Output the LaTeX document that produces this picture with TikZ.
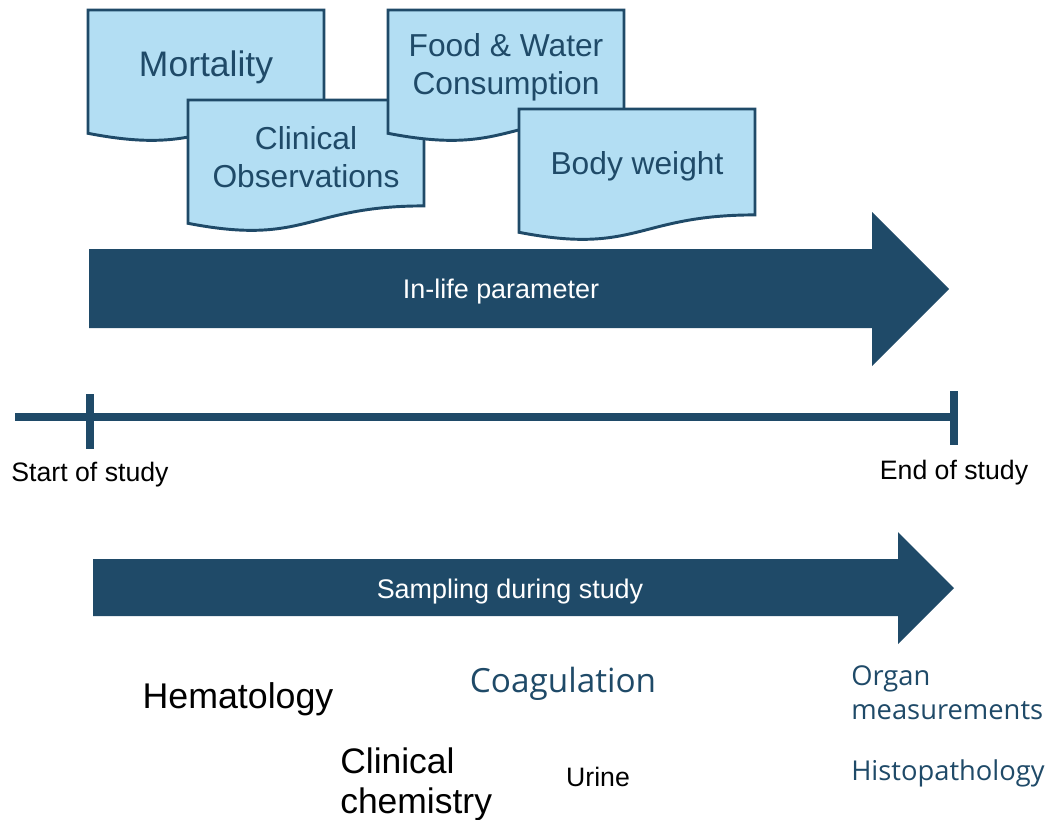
\documentclass[tikz,border=0pt]{standalone}
\usepackage{fontspec}
\setmainfont{Liberation Sans}
\newfontfamily\labelfont{Open Sans}
\definecolor{navy}{HTML}{1F4A68}
\definecolor{boxfill}{HTML}{B3DEF3}

\tikzset{
  docpath/.style={fill=boxfill, draw=navy, line width=2.2pt, line join=miter},
  doctext/.style={text=navy, align=center, inner sep=0pt,
    font=\fontsize{23.8}{28.5}\selectfont},
  bigarrow/.style={fill=navy},
  arrowtext/.style={text=white, inner sep=0pt, font=\fontsize{20.2}{24}\selectfont},
  axisline/.style={draw=navy, line width=6pt},
  ticklabel/.style={text=black, inner sep=0pt, font=\fontsize{20}{24}\selectfont},
  blacklabel/.style={text=black, inner sep=0pt, align=left},
  bluelabel/.style={text=navy, inner sep=0pt, align=left},
}

% document-shaped box: #1 name, #2/#3 top-left corner, #4 text, #5 extra text style
\newcommand\docbox[5]{%
  \begin{scope}[shift={(#2,#3)}]
    \path[docpath] (0,0) -- (236,0) -- (236,105.9)
      .. controls (118,105.9) and (118,146.2) .. (0,123.3) -- cycle;
    \node[doctext,#5] (#1) at (118,57) {#4};
  \end{scope}}

\begin{document}
\begin{tikzpicture}[x=0.75pt,y=-0.75pt]
\useasboundingbox (0,0) rectangle (1050,819);

% in-life measurements
\docbox{mort}{88}{10}{Mortality}{font=\fontsize{26.6}{30}\selectfont}
\docbox{clin}{188}{100}{Clinical\\Observations}{}
\docbox{food}{388}{10}{Food \& Water\\Consumption}{}
\docbox{body}{519}{109}{Body weight}{}

% in-life arrow
\path[bigarrow] (89,249) -- (872,249) -- (872,212) -- (949,289)
  -- (872,366) -- (872,328) -- (89,328) -- cycle;
\node[arrowtext] (inlife) at (501,292) {In-life parameter};

% study timeline
\coordinate (tl-left) at (15,417);
\coordinate (tl-right) at (954,417);
\coordinate (start-top) at (90,394);
\coordinate (start-bot) at (90,449);
\coordinate (end-top) at (954,391);
\coordinate (end-bot) at (954,445);
\draw[axisline] (tl-left) -- (tl-right);
\draw[axisline] (start-top) -- (start-bot);
\draw[axisline] (end-top) -- (end-bot);
\node[ticklabel] (start) at (90,475) {Start of study};
\node[ticklabel] (end) at (954,473) {End of study};

% sampling arrow
\path[bigarrow] (93,559) -- (898,559) -- (898,532) -- (954,588)
  -- (898,644) -- (898,616) -- (93,616) -- cycle;
\node[arrowtext] (sampling) at (510,592) {Sampling during study};

% sampled parameters
\node[blacklabel, anchor=base, font=\fontsize{26.8}{30}\selectfont] (hema) at (238,708) {Hematology};
\node[bluelabel, anchor=base, font=\labelfont\fontsize{25}{30}\selectfont] (coag) at (563,692) {Coagulation};
\node[blacklabel, anchor=base west, font=\fontsize{26.6}{30}\selectfont] (chem) at (340,813) {Clinical\\chemistry};
\node[blacklabel, anchor=base, font=\fontsize{20}{24}\selectfont] (urine) at (598,786) {Urine};
\node[bluelabel, anchor=base west, font=\labelfont\fontsize{20.5}{25.5}\selectfont] (organ) at (851,719) {Organ\\measurements};
\node[bluelabel, anchor=base west, font=\labelfont\fontsize{20.5}{25.5}\selectfont] (histo) at (851,780) {Histopathology};
\end{tikzpicture}
\end{document}
